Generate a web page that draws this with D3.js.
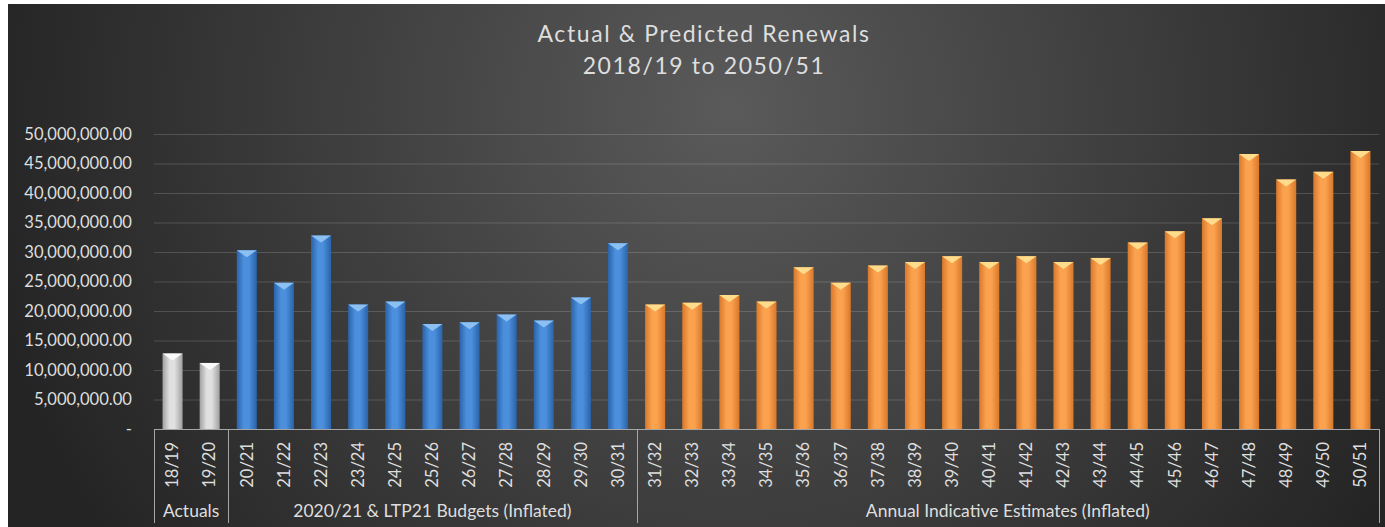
<!DOCTYPE html>
<html>
<head>
<meta charset="utf-8">
<script src="https://cdn.jsdelivr.net/npm/d3@7"></script>
<style>
  html, body { margin: 0; padding: 0; background: #fff; }
  svg { display: block; }
  text { font-family: Lato, "Open Sans", sans-serif; fill: #dedede; }
</style>
</head>
<body>
<svg id="chart"></svg>
<script>
// chart data
const titleLines = ['Actual & Predicted Renewals', '2018/19 to 2050/51'];
const groupNames = ['Actuals', '2020/21 & LTP21 Budgets (Inflated)', 'Annual Indicative Estimates (Inflated)'];

const actualYears = ['18/19', '19/20'];
const actualValues = [12.8e6, 11.2e6];

const budgetYears = ['20/21', '21/22', '22/23', '23/24', '24/25', '25/26', '26/27', '27/28', '28/29', '29/30', '30/31'];
const budgetValues = [30.3e6, 24.8e6, 32.8e6, 21.1e6, 21.6e6, 17.8e6, 18.1e6, 19.4e6, 18.4e6, 22.3e6, 31.5e6];

const estimateYears = ['31/32', '32/33', '33/34', '34/35', '35/36', '36/37', '37/38', '38/39', '39/40', '40/41',
  '41/42', '42/43', '43/44', '44/45', '45/46', '46/47', '47/48', '48/49', '49/50', '50/51'];
const estimateValues = [21.1e6, 21.4e6, 22.7e6, 21.6e6, 27.4e6, 24.8e6, 27.7e6, 28.3e6, 29.3e6, 28.3e6,
  29.3e6, 28.3e6, 29.0e6, 31.6e6, 33.5e6, 35.7e6, 46.6e6, 42.3e6, 43.6e6, 47.1e6];

const yTicks = [0, 5e6, 10e6, 15e6, 20e6, 25e6, 30e6, 35e6, 40e6, 45e6, 50e6];

const groupYears = [actualYears, budgetYears, estimateYears];
const groupValues = [actualValues, budgetValues, estimateValues];

// colours per group: edge, centre, top highlight
const palette = [
  { edge: '#a0a0a0', mid: '#e0e0e0', top: '#fafafa' },
  { edge: '#2a63a8', mid: '#4b8fdd', top: '#8cc0f2' },
  { edge: '#d9782a', mid: '#fba24f', top: '#ffdc8c' }
];

const data = [];
groupYears.forEach((years, g) => {
  years.forEach((yr, i) => data.push({ year: yr, value: groupValues[g][i], group: g }));
});

const W = 1385, H = 527;
const plot = { left: 154, right: 1379, top: 134, bottom: 429 };

const svg = d3.select('#chart').attr('width', W).attr('height', H);
const defs = svg.append('defs');

const bg = defs.append('radialGradient')
  .attr('id', 'bg')
  .attr('gradientUnits', 'userSpaceOnUse')
  .attr('cx', 730).attr('cy', 110).attr('r', 760);
bg.append('stop').attr('offset', 0).attr('stop-color', '#5a5a5a');
bg.append('stop').attr('offset', 1).attr('stop-color', '#242424');

palette.forEach((p, i) => {
  const g = defs.append('linearGradient').attr('id', `bar${i}`)
    .attr('x1', 0).attr('x2', 1).attr('y1', 0).attr('y2', 0);
  g.append('stop').attr('offset', 0).attr('stop-color', p.edge);
  g.append('stop').attr('offset', 0.35).attr('stop-color', p.mid);
  g.append('stop').attr('offset', 0.6).attr('stop-color', p.mid);
  g.append('stop').attr('offset', 1).attr('stop-color', p.edge);
});

svg.append('rect')
  .attr('x', 8).attr('y', 4)
  .attr('width', W - 8).attr('height', H - 4)
  .attr('fill', 'url(#bg)');

// title
svg.append('g')
  .selectAll('text')
  .data(titleLines)
  .enter().append('text')
  .attr('x', 704)
  .attr('y', (d, i) => 42 + i * 32)
  .attr('text-anchor', 'middle')
  .style('font-size', '23px')
  .style('letter-spacing', '1.6px')
  .text(d => d);

const x = d3.scaleBand()
  .domain(data.map(d => d.year))
  .range([plot.left, plot.right])
  .paddingInner(0.46)
  .paddingOuter(0.23);

const y = d3.scaleLinear()
  .domain([0, 50e6])
  .range([plot.bottom, plot.top]);

// gridlines
svg.append('g')
  .attr('class', 'grid')
  .attr('transform', `translate(${plot.left},0)`)
  .call(d3.axisLeft(y).tickValues(yTicks.slice(1)).tickSize(-(plot.right - plot.left)).tickFormat(''))
  .call(g => g.select('.domain').remove())
  .call(g => g.selectAll('line').attr('stroke', 'rgba(255,255,255,0.16)'));

// y axis labels
svg.append('g')
  .attr('transform', `translate(${plot.left},0)`)
  .call(d3.axisLeft(y).tickValues(yTicks).tickSize(0).tickPadding(22)
    .tickFormat(d => d === 0 ? '-' : d3.format(',.2f')(d)))
  .call(g => g.select('.domain').remove())
  .call(g => g.selectAll('text').attr('fill', '#dedede').style('font-size', '16.6px').style('font-family', 'Lato, sans-serif'));

// bars
const bars = svg.append('g').selectAll('.bar')
  .data(data)
  .enter().append('g')
  .attr('class', 'bar');

bars.append('rect')
  .attr('x', d => x(d.year))
  .attr('y', d => y(d.value))
  .attr('width', x.bandwidth())
  .attr('height', d => y(0) - y(d.value))
  .attr('fill', d => `url(#bar${d.group})`);

bars.append('polygon')
  .attr('points', d => {
    const x0 = x(d.year), x1 = x0 + x.bandwidth(), t = y(d.value);
    return `${x0},${t} ${x1},${t} ${x0 + x.bandwidth() / 2},${t + 7}`;
  })
  .attr('fill', d => palette[d.group].top);

// category axis
const axisG = svg.append('g');
axisG.append('line')
  .attr('x1', plot.left).attr('x2', plot.right)
  .attr('y1', plot.bottom + 0.5).attr('y2', plot.bottom + 0.5)
  .attr('stroke', '#a6a6a6');

const boundaries = [0];
groupYears.forEach(ys => boundaries.push(boundaries[boundaries.length - 1] + ys.length));
const step = x.step();
const edgeX = i => plot.left + i * step;

axisG.selectAll('.sep')
  .data(boundaries)
  .enter().append('line')
  .attr('x1', d => Math.round(edgeX(d)) + 0.5)
  .attr('x2', d => Math.round(edgeX(d)) + 0.5)
  .attr('y1', plot.bottom)
  .attr('y2', 523)
  .attr('stroke', '#a6a6a6');

axisG.selectAll('.cat')
  .data(data)
  .enter().append('text')
  .attr('transform', d => `translate(${x(d.year) + x.bandwidth() / 2},442) rotate(-90)`)
  .attr('text-anchor', 'end')
  .attr('dy', '0.35em')
  .style('font-size', '16.5px')
  .text(d => d.year);

axisG.selectAll('.grp')
  .data(groupNames)
  .enter().append('text')
  .attr('x', (d, i) => (edgeX(boundaries[i]) + edgeX(boundaries[i + 1])) / 2)
  .attr('y', 517)
  .attr('text-anchor', 'middle')
  .style('font-size', '17.5px')
  .text(d => d);
</script>
</body>
</html>
